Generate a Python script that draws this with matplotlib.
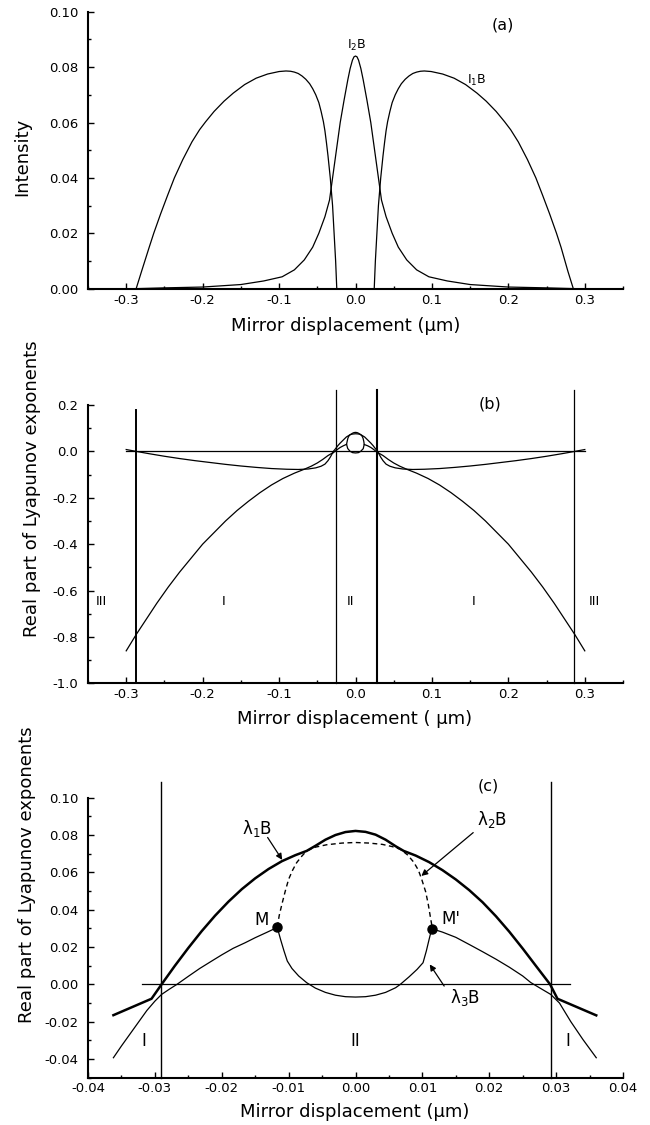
import matplotlib
matplotlib.use('Agg')
import matplotlib.pyplot as plt
from matplotlib.ticker import MultipleLocator, FormatStrFormatter

plt.rcParams['font.family'] = ['DejaVu Sans']
plt.rcParams['axes.unicode_minus'] = False
plt.rcParams['mathtext.default'] = 'regular'

# ---------------- Panel (a) data ----------------
a_I1_left_x = [-0.287, -0.280, -0.270, -0.264, -0.255, -0.246, -0.237, -0.226, -0.214, -0.204, -0.196,
               -0.185, -0.172, -0.160, -0.145, -0.130, -0.115, -0.100, -0.091, -0.085, -0.080, -0.075,
               -0.070, -0.065, -0.060, -0.056, -0.052, -0.048, -0.045, -0.042, -0.040, -0.038, -0.036,
               -0.033, -0.030, -0.028, -0.026, -0.0245]
a_I1_left_y = [0.0, 0.0062, 0.0149, 0.0200, 0.0270, 0.0336, 0.0400, 0.0466, 0.0530, 0.0574, 0.0603,
               0.0640, 0.0677, 0.0706, 0.0737, 0.0760, 0.0775, 0.0784, 0.0786, 0.0785, 0.0782, 0.0777,
               0.0768, 0.0756, 0.0740, 0.0722, 0.0700, 0.0672, 0.0640, 0.0603, 0.0570, 0.0527, 0.0480,
               0.0400, 0.0300, 0.0200, 0.0100, 0.0]
a_I1_right_x = [0.0245, 0.026, 0.028, 0.030, 0.033, 0.036, 0.038, 0.040, 0.042, 0.045, 0.048, 0.052,
                0.056, 0.060, 0.065, 0.070, 0.075, 0.080, 0.085, 0.090, 0.099, 0.114, 0.129, 0.144,
                0.159, 0.171, 0.184, 0.195, 0.203, 0.213, 0.225, 0.236, 0.245, 0.254, 0.263, 0.269,
                0.278, 0.285]
a_I1_right_y = [0.0, 0.0100, 0.0200, 0.0300, 0.0400, 0.0480, 0.0527, 0.0570, 0.0603, 0.0640, 0.0672, 0.0700,
                0.0722, 0.0740, 0.0756, 0.0768, 0.0777, 0.0782, 0.0785, 0.0786, 0.0784, 0.0775, 0.0760, 0.0737,
                0.0706, 0.0677, 0.0640, 0.0603, 0.0574, 0.0530, 0.0466, 0.0400, 0.0336, 0.0270, 0.0200, 0.0149,
                0.0062, 0.0]
a_I2_x = [-0.290, -0.250, -0.200, -0.150, -0.120, -0.096, -0.080, -0.067, -0.056, -0.048, -0.040, -0.034,
          -0.030, -0.025, -0.020, -0.015, -0.010, -0.007, -0.004, -0.002, 0.0, 0.002, 0.004, 0.007, 0.010,
          0.015, 0.020, 0.025, 0.030, 0.034, 0.040, 0.048, 0.056, 0.067, 0.080, 0.096, 0.120, 0.150,
          0.200, 0.250, 0.290]
a_I2_y = [0.0, 0.0003, 0.0006, 0.0015, 0.0028, 0.0043, 0.0068, 0.0104, 0.0150, 0.0200, 0.0260, 0.0320,
          0.0400, 0.0500, 0.0600, 0.0680, 0.0755, 0.0795, 0.0825, 0.0837, 0.0840, 0.0837, 0.0825, 0.0795, 0.0755,
          0.0680, 0.0600, 0.0500, 0.0400, 0.0320, 0.0260, 0.0200, 0.0150, 0.0104, 0.0068, 0.0043, 0.0028, 0.0015,
          0.0006, 0.0003, 0.0]

# ---------------- Panel (b) data ----------------
b_zero_x = [-0.300, 0.300]
b_zero_y = [0.0, 0.0]
b_l1_x = [-0.300, -0.287, -0.275, -0.260, -0.245, -0.230, -0.215, -0.200, -0.185, -0.170, -0.155, -0.140,
          -0.125, -0.110, -0.095, -0.080, -0.067, -0.058, -0.050, -0.043, -0.036, -0.0305, -0.029, -0.026,
          -0.023, -0.020, -0.016, -0.012, -0.009, -0.007, -0.005, -0.0035, -0.002, 0.0,
          0.002, 0.0035, 0.005, 0.007, 0.009, 0.012, 0.016, 0.020, 0.023, 0.026, 0.029, 0.0305, 0.036,
          0.043, 0.050, 0.058, 0.067, 0.080, 0.095, 0.110, 0.125, 0.140, 0.155, 0.170, 0.185, 0.200,
          0.215, 0.230, 0.245, 0.260, 0.275, 0.287, 0.300]
b_l1_y = [-0.86, -0.79, -0.73, -0.655, -0.585, -0.52, -0.46, -0.40, -0.35, -0.30, -0.255, -0.215,
          -0.178, -0.145, -0.117, -0.094, -0.077, -0.064, -0.050, -0.035, -0.018, -0.0075, 0.0, 0.012,
          0.025, 0.036, 0.049, 0.062, 0.068, 0.072, 0.076, 0.079, 0.081, 0.082,
          0.081, 0.079, 0.076, 0.072, 0.068, 0.062, 0.049, 0.036, 0.025, 0.012, 0.0, -0.0075, -0.018,
          -0.035, -0.050, -0.064, -0.077, -0.094, -0.117, -0.145, -0.178, -0.215, -0.255, -0.30, -0.35, -0.40,
          -0.46, -0.52, -0.585, -0.655, -0.73, -0.79, -0.86]
b_l3_x = [-0.300, -0.287, -0.270, -0.250, -0.230, -0.210, -0.190, -0.170, -0.150, -0.130, -0.110, -0.090,
          -0.075, -0.062, -0.052, -0.045, -0.040, -0.036, -0.033, -0.0305, -0.027, -0.023, -0.020, -0.016,
          -0.0117, -0.0102, -0.0073, -0.0038, 0.0, 0.0038, 0.0067, 0.0101, 0.0114,
          0.016, 0.020, 0.023, 0.027, 0.0305, 0.033, 0.036, 0.040, 0.045, 0.052, 0.062, 0.075, 0.090,
          0.110, 0.130, 0.150, 0.170, 0.190, 0.210, 0.230, 0.250, 0.270, 0.287, 0.300]
b_l3_y = [0.008, 0.0, -0.010, -0.021, -0.031, -0.040, -0.048, -0.056, -0.063, -0.069, -0.074, -0.077,
          -0.078, -0.076, -0.071, -0.064, -0.055, -0.040, -0.025, -0.010, 0.0, 0.010, 0.017, 0.024,
          0.0305, 0.0125, 0.0009, -0.0054, -0.0068, -0.0054, 0.0, 0.0116, 0.0298,
          0.024, 0.017, 0.010, 0.0, -0.010, -0.025, -0.040, -0.055, -0.064, -0.071, -0.076, -0.078, -0.077,
          -0.074, -0.069, -0.063, -0.056, -0.048, -0.040, -0.031, -0.021, -0.010, 0.0, 0.008]
b_l2_x = [-0.0117, -0.0110, -0.0100, -0.0088, -0.0073, -0.0043, 0.0, 0.0037, 0.0067, 0.0087, 0.0099, 0.0109, 0.0114]
b_l2_y = [0.0305, 0.042, 0.0563, 0.0652, 0.0715, 0.0745, 0.076, 0.0751, 0.0724, 0.0652, 0.0563, 0.042, 0.0298]
b_vline_x = [-0.287, -0.026, 0.028, 0.286]
b_vline_top = [0.178, 0.265, 0.265, 0.265]
b_vline_lw = [1.4, 0.9, 1.5, 0.9]
b_region_x = [-0.332, -0.172, -0.007, 0.154, 0.312]
b_region_txt = ['III', 'I', 'II', 'I', 'III']

# ---------------- Panel (c) data ----------------
c_l1_x = [-0.0362, -0.0305, -0.0290, -0.0270, -0.0250, -0.0230, -0.0210, -0.0190, -0.0170, -0.0150,
          -0.0130, -0.0110, -0.0090, -0.0073, -0.0060, -0.0045, -0.0030, -0.0015, 0.0,
          0.0015, 0.0030, 0.0045, 0.0060, 0.0072, 0.0090, 0.0110, 0.0130, 0.0150, 0.0170, 0.0190,
          0.0210, 0.0230, 0.0250, 0.0270, 0.0291, 0.0302, 0.0360]
c_l1_y = [-0.0165, -0.0077, 0.0, 0.0100, 0.0195, 0.0285, 0.0368, 0.0443, 0.0510, 0.0568,
          0.0618, 0.0660, 0.0692, 0.0715, 0.0742, 0.0775, 0.0800, 0.0816, 0.0822,
          0.0817, 0.0802, 0.0775, 0.0740, 0.0715, 0.0690, 0.0655, 0.0612, 0.0562, 0.0505, 0.0440,
          0.0365, 0.0282, 0.0192, 0.0098, 0.0, -0.0077, -0.0166]
c_l3_x = [-0.0362, -0.0350, -0.0337, -0.0324, -0.0312, -0.0300, -0.0290, -0.0278, -0.0267, -0.0250,
          -0.0233, -0.0215, -0.0200, -0.0183, -0.0165, -0.0150, -0.0133, -0.0117,
          -0.0112, -0.0107, -0.0102, -0.0095, -0.0085, -0.0073, -0.0060, -0.0045, -0.0030, -0.0015, 0.0,
          0.0015, 0.0030, 0.0045, 0.0060, 0.0067, 0.0080, 0.0092, 0.0101, 0.0106, 0.0110, 0.0114,
          0.0130, 0.0150, 0.0172, 0.0190, 0.0210, 0.0230, 0.0250, 0.0262, 0.0275, 0.0292, 0.0305,
          0.0322, 0.0340, 0.0360]
c_l3_y = [-0.0393, -0.0330, -0.0265, -0.0200, -0.0140, -0.0090, -0.0054, -0.0025, 0.0, 0.0043,
          0.0085, 0.0125, 0.0158, 0.0193, 0.0223, 0.0250, 0.0278, 0.0305,
          0.0240, 0.0180, 0.0125, 0.0085, 0.0045, 0.0009, -0.0020, -0.0043, -0.0058, -0.0066, -0.0068,
          -0.0066, -0.0058, -0.0043, -0.0018, 0.0, 0.0040, 0.0080, 0.0116, 0.0180, 0.0240, 0.0298,
          0.0280, 0.0252, 0.0210, 0.0175, 0.0135, 0.0092, 0.0045, 0.0010, -0.0018, -0.0054, -0.0100,
          -0.0200, -0.0295, -0.0393]
c_l2_x = [-0.0117, -0.0114, -0.0110, -0.0105, -0.0100, -0.0094, -0.0088, -0.0080, -0.0073, -0.0060,
          -0.0043, -0.0020, 0.0, 0.0020, 0.0040, 0.0055, 0.0067, 0.0078, 0.0087, 0.0094, 0.0099,
          0.0105, 0.0109, 0.0112, 0.0115]
c_l2_y = [0.0307, 0.0370, 0.0430, 0.0500, 0.0563, 0.0612, 0.0652, 0.0688, 0.0715, 0.0735,
          0.0748, 0.0757, 0.0760, 0.0757, 0.0750, 0.0738, 0.0724, 0.0693, 0.0655, 0.0612, 0.0563,
          0.0495, 0.0425, 0.0360, 0.0299]
c_zero_x = [-0.032, 0.032]
c_zero_y = [0.0, 0.0]
c_vline_x = [-0.0291, 0.0293]
c_vline_top = 0.1085
c_M_x = [-0.0117, 0.0114]
c_M_y = [0.0305, 0.0298]


def style(ax, xlim, ylim, xmaj, xmin, ymaj, ymin, xfmt, yfmt, xpad=3.5):
    ax.set_xlim(*xlim)
    ax.set_ylim(*ylim)
    for s in ['top', 'right']:
        ax.spines[s].set_visible(False)
    for s in ['left', 'bottom']:
        ax.spines[s].set_linewidth(1.5)
    ax.xaxis.set_major_locator(MultipleLocator(xmaj))
    ax.xaxis.set_minor_locator(MultipleLocator(xmin))
    ax.yaxis.set_major_locator(MultipleLocator(ymaj))
    ax.yaxis.set_minor_locator(MultipleLocator(ymin))
    ax.xaxis.set_major_formatter(FormatStrFormatter(xfmt))
    ax.yaxis.set_major_formatter(FormatStrFormatter(yfmt))
    ax.tick_params(which='both', direction='in', top=False, right=False, width=1.0, labelsize=9.5)
    ax.tick_params(which='major', length=4)
    ax.tick_params(which='minor', length=2.5)
    ax.tick_params(axis='x', which='major', pad=xpad)
    ax.tick_params(axis='y', which='major', pad=7)
    ax.patch.set_alpha(0)


W, H = 650.0, 1125.0
fig = plt.figure(figsize=(6.5, 11.25), dpi=100)

# ---------- (a) ----------
ax_a = fig.add_axes([88 / W, 1 - 288.7 / H, 535 / W, 277 / H])
ax_a.plot(a_I1_left_x, a_I1_left_y, color='black', lw=0.9)
ax_a.plot(a_I1_right_x, a_I1_right_y, color='black', lw=0.9)
ax_a.plot(a_I2_x, a_I2_y, color='black', lw=0.9)
style(ax_a, (-0.35, 0.35), (0.0, 0.10), 0.1, 0.05, 0.02, 0.01, '%.1f', '%.2f')
ax_a.text(0.193, 0.0952, '(a)', ha='center', va='center', fontsize=11.5)
ax_a.text(0.001, 0.0877, 'I$_2$B', ha='center', va='center', fontsize=9)
ax_a.text(0.158, 0.0753, 'I$_1$B', ha='center', va='center', fontsize=9)
fig.text(22 / W, 1 - 157 / H, 'Intensity', rotation=90, ha='center', va='center', fontsize=13)
fig.text(346 / W, 1 - 326 / H, 'Mirror displacement (µm)', ha='center', va='center', fontsize=13)

# ---------- (b) ----------
ax_b = fig.add_axes([88 / W, 1 - 683.3 / H, 535 / W, 278.3 / H])
ax_b.plot(b_zero_x, b_zero_y, color='black', lw=0.9)
ax_b.plot(b_l1_x, b_l1_y, color='black', lw=0.9)
ax_b.plot(b_l3_x, b_l3_y, color='black', lw=0.9)
ax_b.plot(b_l2_x, b_l2_y, color='black', lw=0.9)
for xv, top, lw in zip(b_vline_x, b_vline_top, b_vline_lw):
    ax_b.plot([xv, xv], [-1.0, top], color='black', lw=lw, clip_on=False)
style(ax_b, (-0.35, 0.35), (-1.0, 0.2), 0.1, 0.05, 0.2, 0.1, '%.1f', '%.1f')
for xv, t in zip(b_region_x, b_region_txt):
    ax_b.text(xv, -0.648, t, ha='center', va='center', fontsize=9.5)
ax_b.text(0.176, 0.203, '(b)', ha='center', va='center', fontsize=11.5)
fig.text(32 / W, 1 - 489 / H, 'Real part of Lyapunov exponents', rotation=90, ha='center', va='center',
         fontsize=13)
fig.text(355 / W, 1 - 719 / H, 'Mirror displacement ( µm)', ha='center', va='center', fontsize=13)

# ---------- (c) ----------
ax_c = fig.add_axes([88 / W, 1 - 1077.7 / H, 535 / W, 280 / H])
ax_c.plot(c_zero_x, c_zero_y, color='black', lw=0.9)
ax_c.plot(c_l1_x, c_l1_y, color='black', lw=1.8)
ax_c.plot(c_l3_x, c_l3_y, color='black', lw=0.9)
ax_c.plot(c_l2_x, c_l2_y, color='black', lw=1.0, ls=(0, (3.5, 2.5)))
for xv in c_vline_x:
    ax_c.plot([xv, xv], [-0.05, c_vline_top], color='black', lw=1.0, clip_on=False)
ax_c.plot(c_M_x, c_M_y, 'o', color='black', ms=6.5)
style(ax_c, (-0.04, 0.04), (-0.05, 0.10), 0.01, 0.005, 0.02, 0.01, '%.2f', '%.2f', xpad=3)
ax_c.text(0.0199, 0.1063, '(c)', ha='center', va='center', fontsize=11.5, clip_on=False)
ax_c.text(-0.01473, 0.0836, 'λ$_1$B', ha='center', va='center', fontsize=12)
ax_c.text(0.0204, 0.0881, 'λ$_2$B', ha='center', va='center', fontsize=12)
ax_c.text(0.01636, -0.0071, 'λ$_3$B', ha='center', va='center', fontsize=12)
ax_c.text(-0.01403, 0.0345, 'M', ha='center', va='center', fontsize=12)
ax_c.text(0.01419, 0.0349, "M'", ha='center', va='center', fontsize=12)
arrow = dict(arrowstyle='-|>', lw=0.9, color='black', mutation_scale=9, shrinkA=0, shrinkB=0)
ax_c.annotate('', xy=(-0.01096, 0.0667), xytext=(-0.01314, 0.0787), arrowprops=arrow)
ax_c.annotate('', xy=(0.00985, 0.0581), xytext=(0.0176, 0.0813), arrowprops=arrow)
ax_c.annotate('', xy=(0.0111, 0.0107), xytext=(0.01326, -0.0009), arrowprops=arrow)
ax_c.text(-0.0316, -0.0304, 'I', ha='center', va='center', fontsize=12)
ax_c.text(0.0, -0.0304, 'II', ha='center', va='center', fontsize=12)
ax_c.text(0.0318, -0.0304, 'I', ha='center', va='center', fontsize=12)
fig.text(27 / W, 1 - 875 / H, 'Real part of Lyapunov exponents', rotation=90, ha='center', va='center',
         fontsize=13)
fig.text(355 / W, 1 - 1112 / H, 'Mirror displacement (µm)', ha='center', va='center', fontsize=13)

fig.savefig('out.png', dpi=100)
